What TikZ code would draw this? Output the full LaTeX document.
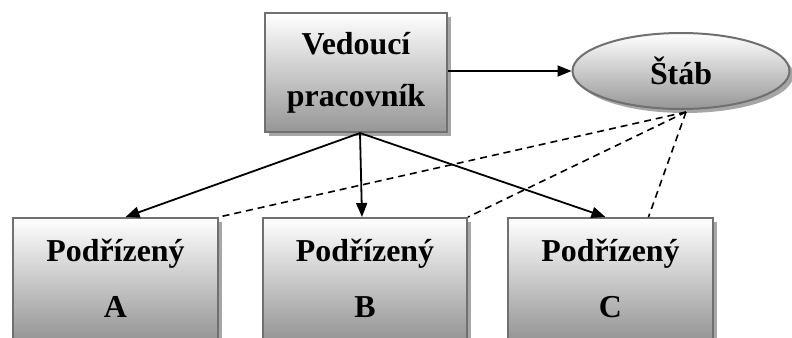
\documentclass[tikz,border=0pt]{standalone}
\usepackage{fontspec}
\setmainfont{Liberation Serif}
\usetikzlibrary{arrows.meta,shadows,calc,shapes.geometric}
\definecolor{edgegray}{HTML}{707070}
\definecolor{shadegray}{HTML}{969696}
\definecolor{shadowgray}{HTML}{A6A6A6}
\tikzset{
  orgbox/.style={draw=edgegray, line width=2bp, rectangle,
    top color=white, bottom color=shadegray, align=center,
    font=\bfseries\fontsize{32}{52}\selectfont,
    drop shadow={shadow xshift=4bp, shadow yshift=-4bp, fill=shadowgray, opacity=1}},
  subbox/.style={orgbox, minimum width=205bp, minimum height=121bp,
    font=\bfseries\fontsize{32}{56}\selectfont},
  staffoval/.style={orgbox, ellipse, inner sep=0pt},
  link/.style={line width=1.8bp, -{Triangle[length=14bp,width=11bp]}},
  advice/.style={line width=1.6bp, dash pattern=on 7bp off 5bp}
}
\begin{document}
\begin{tikzpicture}[x=1bp,y=-1bp]
\useasboundingbox (0,0) rectangle (792,337);
\clip (0,0) rectangle (792,337);
\fill[white] (0,0) rectangle (792,337);
% manager and staff
\node[orgbox, minimum width=182bp, minimum height=119bp] (lead) at (356,72.5) {Vedoucí\\pracovník};
\node[staffoval, minimum width=217bp, minimum height=76bp] (staff) at (681,71) {Štáb};
% subordinates
\node[subbox] (subA) at (115.5,278.5) {Podřízený\\A};
\node[subbox, minimum width=204bp] (subB) at (365,278.5) {Podřízený\\B};
\node[subbox] (subC) at (610.5,278.5) {Podřízený\\C};
% line relations
\draw[link] (lead.east |- staff.west) -- (staff.west);
\draw[link] ($(lead.south)+(4,0)$) -- ($(subA.north)+(10,0)$);
\draw[link] ($(lead.south)+(4,0)$) -- ($(subB.north)+(-3,0)$);
\draw[link] ($(lead.south)+(4,0)$) -- ($(subC.north)+(-5,0)$);
% staff relations
\coordinate (hub) at (686,112);
\draw[advice] (hub) -- (subA.north east);
\draw[advice] (hub) -- (subB.north east);
\draw[advice] (hub) -- ($(subC.north)+(38,0)$);
\end{tikzpicture}
\end{document}
